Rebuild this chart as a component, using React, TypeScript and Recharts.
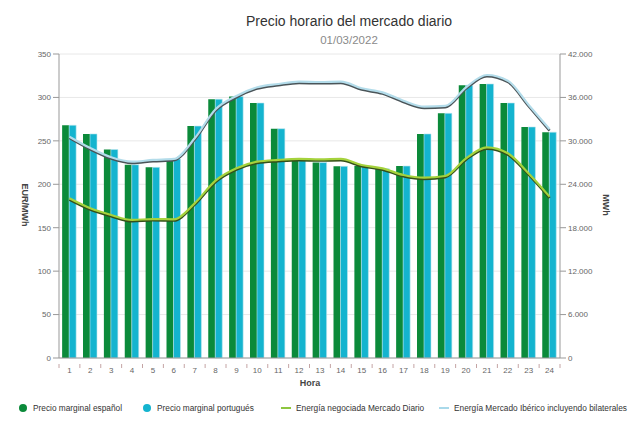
import React from 'react';
import { ComposedChart, Bar, Line, XAxis, YAxis, CartesianGrid } from 'recharts';

const hours = [1, 2, 3, 4, 5, 6, 7, 8, 9, 10, 11, 12, 13, 14, 15, 16, 17, 18, 19, 20, 21, 22, 23, 24];
const precioEs = [268, 258, 240, 222.5, 219.5, 229, 267, 298, 301, 293.6, 264, 228, 225, 220.7, 221, 218, 221, 258, 281.7, 314, 315.5, 293.6, 266, 260];
const precioPt = [268, 258, 240, 222.5, 219.5, 229, 267, 298, 301, 293.6, 264, 228, 225, 220.7, 221, 218, 221, 258, 281.7, 314, 315.5, 293.6, 266, 260];
const energiaDiario = [22060, 20680, 19760, 19070, 19200, 19160, 21370, 24500, 26200, 27120, 27360, 27500, 27450, 27500, 26670, 26200, 25280, 24910, 25150, 27590, 29100, 28280, 25500, 22290];
const energiaIberico = [30575, 29000, 27730, 27120, 27360, 27500, 30350, 34360, 36200, 37400, 37860, 38180, 38130, 38180, 37260, 36700, 35550, 34720, 34820, 37400, 39100, 38310, 34960, 31600];
const leftTicks = [0, 50, 100, 150, 200, 250, 300, 350];
const rightTicks = [0, 6000, 12000, 18000, 24000, 30000, 36000, 42000];

const data = hours.map((h, i) => ({
  hour: h,
  es: precioEs[i],
  pt: precioPt[i],
  diario: energiaDiario[i],
  iberico: energiaIberico[i],
}));

const fmt = (v: number) => v.toLocaleString('de-DE');
const FONT = '"Liberation Sans", Arial, sans-serif';

const HourTick = (props: any) => {
  const { x, y, payload, index } = props;
  const off = payload.offset || 0;
  return (
    <g>
      <line x1={x - off} x2={x - off} y1={y - 2} y2={y + 2} stroke="#c4a4a4" strokeWidth={1} />
      {index === hours.length - 1 && (
        <line x1={x + off} x2={x + off} y1={y - 2} y2={y + 2} stroke="#c4a4a4" strokeWidth={1} />
      )}
      <text x={x} y={y + 7} textAnchor="middle" fontSize={8} fill="#666" fontFamily={FONT}>
        {payload.value}
      </text>
    </g>
  );
};

const legendItems = [
  { label: 'Precio marginal español', color: '#0b8a3a', kind: 'dot', left: 19 },
  { label: 'Precio marginal portugués', color: '#14b4cf', kind: 'dot', left: 143 },
  { label: 'Energía negociada Mercado Diario', color: '#8dc63f', kind: 'line', left: 281 },
  { label: 'Energía Mercado Ibérico incluyendo bilaterales', color: '#a9d9ea', kind: 'line', left: 439 },
];

export default function App() {
  return (
    <div style={{ position: 'absolute', left: 0, top: 0, width: 640, height: 426, background: '#fff', fontFamily: FONT }}>
      <style>{`.shadow-shift path { transform: translate(0px, 1.3px); }`}</style>
      <div style={{ position: 'absolute', left: 0, width: 698, top: 13, textAlign: 'center', fontSize: 14, color: '#333' }}>
        Precio horario del mercado diario
      </div>
      <div style={{ position: 'absolute', left: 0, width: 698, top: 34, textAlign: 'center', fontSize: 11.5, color: '#8a8a8a' }}>
        01/03/2022
      </div>
      <ComposedChart
        width={640}
        height={426}
        data={data}
        margin={{ top: 54, right: 35, bottom: 48, left: 24 }}
        barCategoryGap="15%"
        barGap={0}
      >
        <CartesianGrid vertical={false} stroke="#e8e8e8" yAxisId="l" />
        <XAxis
          dataKey="hour"
          height={20}
          stroke="#999"
          tickLine={false}
          tick={<HourTick />}
          interval={0}
        />
        <YAxis
          yAxisId="l"
          domain={[0, 350]}
          ticks={leftTicks}
          width={35}
          stroke="#999"
          tickSize={6}
          tick={{ fontSize: 8, fill: '#666', fontFamily: FONT }}
          interval={0}
        />
        <YAxis
          yAxisId="r"
          orientation="right"
          domain={[0, 42000]}
          ticks={rightTicks}
          width={45}
          stroke="#999"
          tickSize={6}
          tickFormatter={fmt}
          tick={{ fontSize: 8, fill: '#666', fontFamily: FONT }}
          interval={0}
        />
        <Bar yAxisId="l" dataKey="es" fill="#0b8a3a" isAnimationActive={false} />
        <Bar yAxisId="l" dataKey="pt" fill="#14b4cf" stroke="#bfe6ee" strokeWidth={0.6} isAnimationActive={false} />
        <Line yAxisId="r" className="shadow-shift" type="monotone" dataKey="iberico" stroke="#4a5458" strokeWidth={2.5} dot={false} isAnimationActive={false} legendType="none" />
        <Line yAxisId="r" type="monotone" dataKey="iberico" stroke="#b3dcea" strokeWidth={2.2} dot={false} isAnimationActive={false} />
        <Line yAxisId="r" className="shadow-shift" type="monotone" dataKey="diario" stroke="#34501a" strokeWidth={2.5} dot={false} isAnimationActive={false} legendType="none" />
        <Line yAxisId="r" type="monotone" dataKey="diario" stroke="#a5d23c" strokeWidth={2.2} dot={false} isAnimationActive={false} />
      </ComposedChart>
      <div style={{ position: 'absolute', left: 25, top: 205, transform: 'translate(-50%,-50%) rotate(90deg)', fontSize: 9, fontWeight: 'bold', color: '#444', whiteSpace: 'nowrap' }}>
        EUR/MWh
      </div>
      <div style={{ position: 'absolute', left: 606, top: 205, transform: 'translate(-50%,-50%) rotate(90deg)', fontSize: 9, fontWeight: 'bold', color: '#444', whiteSpace: 'nowrap' }}>
        MWh
      </div>
      <div style={{ position: 'absolute', left: 260, width: 100, top: 378, textAlign: 'center', fontSize: 9, fontWeight: 'bold', color: '#444' }}>
        Hora
      </div>
      {legendItems.map((it) => (
        <div key={it.label} style={{ position: 'absolute', left: it.left, top: 402, height: 12, display: 'flex', alignItems: 'center', fontSize: 8.3, color: '#333', whiteSpace: 'nowrap' }}>
          {it.kind === 'dot' ? (
            <span style={{ display: 'inline-block', width: 8, height: 8, borderRadius: 4, background: it.color, marginRight: 6 }} />
          ) : (
            <span style={{ display: 'inline-block', width: 10, height: 2, background: it.color, marginRight: 5 }} />
          )}
          {it.label}
        </div>
      ))}
    </div>
  );
}
